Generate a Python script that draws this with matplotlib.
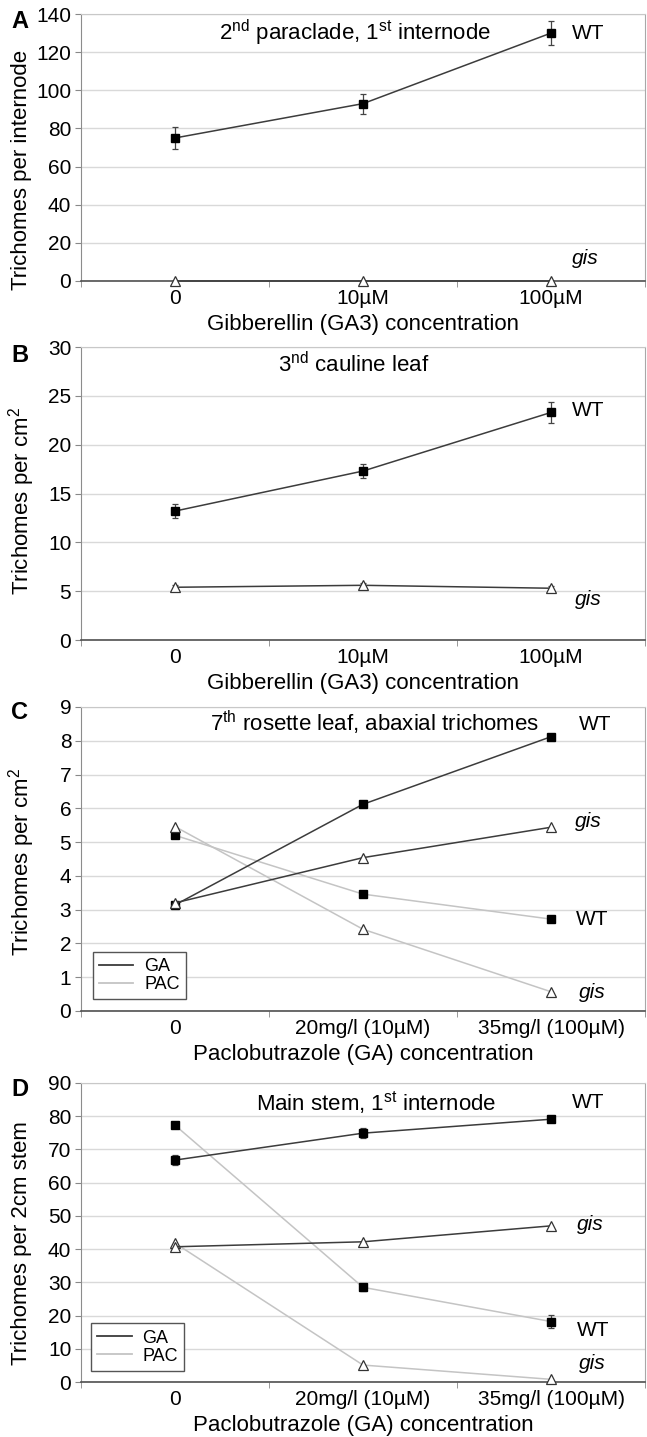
import matplotlib.pyplot as plt
from matplotlib.lines import Line2D
from matplotlib.ticker import MultipleLocator

plt.rcParams['font.family'] = ['Liberation Sans', 'DejaVu Sans']
plt.rcParams['mathtext.fontset'] = 'custom'
plt.rcParams['mathtext.rm'] = 'Liberation Sans'
plt.rcParams['mathtext.it'] = 'Liberation Sans:italic'

ga3_doses = ['0', '10µM', '100µM']
pac_doses = ['0', '20mg/l (10µM)', '35mg/l (100µM)']

# A: 2nd paraclade, 1st internode
a_wt = [75, 93, 130]
a_wt_err = [6, 5.2, 6.4]
a_gis = [0, 0, 0]

# B: cauline leaf
b_wt = [13.2, 17.3, 23.3]
b_wt_err = [0.72, 0.7, 1.1]
b_gis = [5.4, 5.6, 5.3]
b_gis_err = [0.2, 0.25, 0.25]

# C: rosette leaf (GA / PAC)
c_ga_wt = [3.14, 6.12, 8.12]
c_ga_gis = [3.2, 4.54, 5.44]
c_pac_wt = [5.2, 3.46, 2.72]
c_pac_gis = [5.46, 2.42, 0.57]

# D: main stem (GA / PAC)
d_ga_wt = [66.8, 74.9, 79.1]
d_ga_wt_err = [1.5, 1.5, 0.8]
d_ga_gis = [40.7, 42.2, 47]
d_pac_wt = [77.3, 28.5, 18.2]
d_pac_wt_err = [0.6, 1.0, 2.0]
d_pac_gis = [41.8, 5.1, 0.8]

GA_COL = '#3c3c3c'
PAC_COL = '#c4c4c4'
FIG_H = 1437


def frame(ax, ymax, step, labels, xlabel, ylabel, ylabel_y):
    ax.set_xlim(-0.5, 2.5)
    ax.set_ylim(0, ymax)
    ax.yaxis.set_major_locator(MultipleLocator(step))
    ax.set_xticks([0, 1, 2])
    ax.set_xticklabels(labels, fontsize=15)
    ax.set_xticks([-0.5, 0.5, 1.5, 2.5], minor=True)
    ax.tick_params(axis='x', which='major', length=0, pad=6)
    ax.tick_params(axis='x', which='minor', length=4, color='#888888')
    ax.tick_params(axis='y', length=4, color='#888888', labelsize=15, pad=3)
    ax.grid(axis='y', color='#d9d9d9', lw=1.0)
    ax.set_axisbelow(True)
    ax.spines['left'].set_color('#8c8c8c')
    ax.spines['top'].set_color('#c8c8c8')
    ax.spines['right'].set_color('#a8a8a8')
    ax.spines['bottom'].set_color('#505050')
    ax.spines['bottom'].set_linewidth(1.2)
    ax.set_xlabel(xlabel, fontsize=16, labelpad=4)
    ax.text(-0.105, ylabel_y, ylabel, transform=ax.transAxes, rotation=90,
            ha='center', va='center', fontsize=16)


def series(ax, y, err, col, marker):
    if marker == 's':
        kw = dict(marker='s', ms=5.8, mfc='black', mec='black')
    else:
        kw = dict(marker='^', ms=7.5, mfc='white', mec='#333333', mew=0.9)
    ax.errorbar([0, 1, 2], y, yerr=err, color=col, lw=1.1, ecolor='#444444',
                elinewidth=0.9, capsize=2.5, capthick=0.9, clip_on=False,
                zorder=3, **kw)


def legend(ax, x0, y0):
    handles = [Line2D([], [], color=GA_COL, lw=1.3),
               Line2D([], [], color=PAC_COL, lw=1.3)]
    leg = ax.legend(handles, ['GA', 'PAC'], loc='lower left',
                    bbox_to_anchor=(x0, y0), fontsize=13, fancybox=False,
                    framealpha=1, edgecolor='#555555', handlelength=1.9,
                    handletextpad=0.6, labelspacing=0.05, borderpad=0.35,
                    borderaxespad=0)
    leg.get_frame().set_linewidth(1.0)


fig = plt.figure(figsize=(6.47, 14.37), dpi=100)
left, width = 81 / 647, 564 / 647


def make_axes(top, bottom):
    return fig.add_axes([left, 1 - bottom / FIG_H, width, (bottom - top) / FIG_H])


# ---- A
ax = make_axes(14, 281)
frame(ax, 140, 20, ga3_doses, 'Gibberellin (GA3) concentration',
      'Trichomes per internode', 0.416)
series(ax, a_wt, a_wt_err, GA_COL, 's')
series(ax, a_gis, None, GA_COL, '^')
ax.text(0.486, 0.929, r'2$^{\mathrm{nd}}$ paraclade, 1$^{\mathrm{st}}$ internode',
        transform=ax.transAxes, ha='center', va='center', fontsize=16)
ax.text(2.11, 130, 'WT', ha='left', va='center', fontsize=15)
ax.text(2.11, 12, 'gis', ha='left', va='center', fontsize=15, style='italic')
fig.text(20 / 647, 1 - 21 / FIG_H, 'A', fontsize=17, fontweight='bold',
         ha='center', va='center')

# ---- B
ax = make_axes(347, 640)
frame(ax, 30, 5, ga3_doses, 'Gibberellin (GA3) concentration',
      r'Trichomes per cm$^{2}$', 0.474)
series(ax, b_wt, b_wt_err, GA_COL, 's')
series(ax, b_gis, b_gis_err, GA_COL, '^')
ax.text(0.484, 0.939, r'3$^{\mathrm{nd}}$ cauline leaf', transform=ax.transAxes,
        ha='center', va='center', fontsize=16)
ax.text(2.11, 23.5, 'WT', ha='left', va='center', fontsize=15)
ax.text(2.13, 4.1, 'gis', ha='left', va='center', fontsize=15, style='italic')
fig.text(20 / 647, 1 - 356 / FIG_H, 'B', fontsize=17, fontweight='bold',
         ha='center', va='center')

# ---- C
ax = make_axes(707, 1011)
frame(ax, 9, 1, pac_doses, 'Paclobutrazole (GA) concentration',
      r'Trichomes per cm$^{2}$', 0.49)
series(ax, c_pac_wt, None, PAC_COL, 's')
series(ax, c_pac_gis, None, PAC_COL, '^')
series(ax, c_ga_wt, None, GA_COL, 's')
series(ax, c_ga_gis, None, GA_COL, '^')
ax.text(0.521, 0.947, r'7$^{\mathrm{th}}$ rosette leaf, abaxial trichomes',
        transform=ax.transAxes, ha='center', va='center', fontsize=16)
ax.text(2.15, 8.47, 'WT', ha='left', va='center', fontsize=15)
ax.text(2.13, 5.6, 'gis', ha='left', va='center', fontsize=15, style='italic')
ax.text(2.13, 2.7, 'WT', ha='left', va='center', fontsize=15)
ax.text(2.15, 0.56, 'gis', ha='left', va='center', fontsize=15, style='italic')
legend(ax, 0.021, 0.039)
fig.text(20 / 647, 1 - 713 / FIG_H, 'C', fontsize=17, fontweight='bold',
         ha='center', va='center')

# ---- D
ax = make_axes(1083, 1382)
frame(ax, 90, 10, pac_doses, 'Paclobutrazole (GA) concentration',
      'Trichomes per 2cm stem', 0.465)
series(ax, d_pac_wt, d_pac_wt_err, PAC_COL, 's')
series(ax, d_pac_gis, None, PAC_COL, '^')
series(ax, d_ga_wt, d_ga_wt_err, GA_COL, 's')
series(ax, d_ga_gis, None, GA_COL, '^')
ax.text(0.523, 0.936, r'Main stem, 1$^{\mathrm{st}}$ internode',
        transform=ax.transAxes, ha='center', va='center', fontsize=16)
ax.text(2.11, 84, 'WT', ha='left', va='center', fontsize=15)
ax.text(2.14, 47.3, 'gis', ha='left', va='center', fontsize=15, style='italic')
ax.text(2.14, 15.6, 'WT', ha='left', va='center', fontsize=15)
ax.text(2.15, 5.7, 'gis', ha='left', va='center', fontsize=15, style='italic')
legend(ax, 0.018, 0.037)
fig.text(20 / 647, 1 - 1090 / FIG_H, 'D', fontsize=17, fontweight='bold',
         ha='center', va='center')

fig.savefig('out.png', dpi=100)
